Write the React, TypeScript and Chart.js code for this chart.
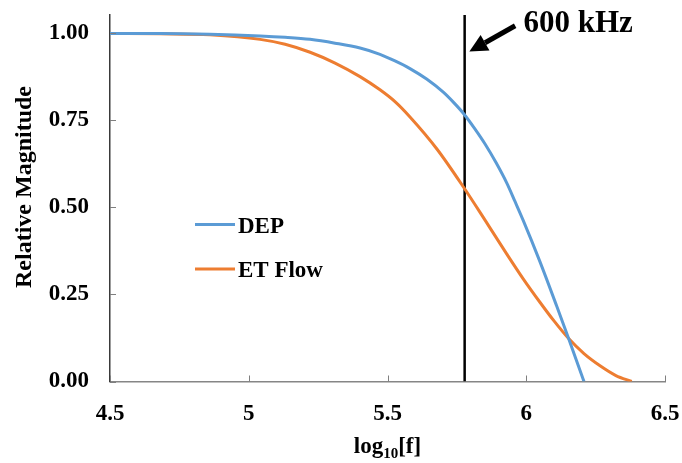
import React, { useEffect, useRef } from "react";
import { Chart, registerables } from "chart.js";

Chart.register(...registerables);

// ---- data ----
const DEP_X = [4.5, 4.68, 4.86, 5.041, 5.131, 5.221, 5.311, 5.401, 5.473, 5.527, 5.581, 5.641, 5.7, 5.738, 5.776, 5.813, 5.851, 5.891, 5.93, 5.959, 5.989, 6.05, 6.11, 6.152, 6.208];
const DEP_Y = [1.0, 1.0, 0.998, 0.993, 0.989, 0.983, 0.972, 0.958, 0.94, 0.921, 0.899, 0.869, 0.832, 0.802, 0.768, 0.728, 0.683, 0.629, 0.57, 0.518, 0.463, 0.343, 0.216, 0.125, 0.0];

const ETF_X = [4.5, 4.68, 4.86, 5.041, 5.131, 5.221, 5.311, 5.401, 5.473, 5.527, 5.581, 5.678, 5.776, 5.844, 5.93, 5.989, 6.05, 6.1, 6.152, 6.208, 6.266, 6.323, 6.38];
const ETF_Y = [1.0, 0.999, 0.996, 0.983, 0.969, 0.946, 0.915, 0.876, 0.838, 0.804, 0.76, 0.668, 0.556, 0.473, 0.366, 0.295, 0.227, 0.174, 0.124, 0.08, 0.045, 0.017, 0.0];

const SERIES_NAMES = ["DEP", "ET Flow"];

const X_TICKS = [4.5, 5, 5.5, 6, 6.5];
const X_TICK_LABELS = ["4.5", "5", "5.5", "6", "6.5"];
const Y_TICKS = [0, 0.25, 0.5, 0.75, 1.0];
const Y_TICK_LABELS = ["0.00", "0.25", "0.50", "0.75", "1.00"];

const X_MIN = 4.5;
const X_MAX = 6.5;
const Y_MIN = 0;
const Y_MAX = 1.053;

// 600 kHz marker: log10(600000)
const MARK_X = 5.778;
const MARK_LABEL = "600 kHz";
const ARROW_TIP = { x: 5.795, y: 0.948 };
const ARROW_TAIL = { x: 5.96, y: 1.022 };
const MARK_TEXT_POS = { x: 5.99, y: 1.004 };

const Y_TITLE = "Relative Magnitude";

const BLUE = "#5B9BD5";
const ORANGE = "#ED7D31";
const FONT = "'Liberation Serif', 'Times New Roman', serif";

export default function App() {
  const ref = useRef<HTMLCanvasElement>(null);

  useEffect(() => {
    const canvas = ref.current;
    if (!canvas) return;

    const decor = {
      id: "decor",
      afterDraw(chart: any) {
        const ctx = chart.ctx as CanvasRenderingContext2D;
        const xs = chart.scales.x;
        const ys = chart.scales.y;
        const area = chart.chartArea;
        ctx.save();

        // inward tick marks
        ctx.strokeStyle = "#7f7f7f";
        ctx.lineWidth = 1;
        X_TICKS.forEach((v) => {
          const px = Math.round(xs.getPixelForValue(v)) + 0.5;
          ctx.beginPath();
          ctx.moveTo(px, area.bottom);
          ctx.lineTo(px, area.bottom - 6);
          ctx.stroke();
        });
        Y_TICKS.forEach((v) => {
          const py = Math.round(ys.getPixelForValue(v)) + 0.5;
          ctx.beginPath();
          ctx.moveTo(area.left, py);
          ctx.lineTo(area.left + 6, py);
          ctx.stroke();
        });

        // tick labels
        ctx.fillStyle = "#000";
        ctx.font = `bold 23px ${FONT}`;
        ctx.textAlign = "center";
        ctx.textBaseline = "alphabetic";
        X_TICKS.forEach((v, i) => {
          ctx.fillText(X_TICK_LABELS[i], xs.getPixelForValue(v), area.bottom + 38.5);
        });
        ctx.textAlign = "right";
        ctx.textBaseline = "middle";
        Y_TICKS.forEach((v, i) => {
          ctx.fillText(Y_TICK_LABELS[i], area.left - 21, ys.getPixelForValue(v));
        });

        // arrow
        const tx = xs.getPixelForValue(ARROW_TIP.x);
        const ty = ys.getPixelForValue(ARROW_TIP.y);
        const sx = xs.getPixelForValue(ARROW_TAIL.x);
        const sy = ys.getPixelForValue(ARROW_TAIL.y);
        const ang = Math.atan2(ty - sy, tx - sx);
        const headLen = 18;
        const headW = 9;
        const bx = tx - headLen * Math.cos(ang);
        const by = ty - headLen * Math.sin(ang);
        ctx.strokeStyle = "#000";
        ctx.fillStyle = "#000";
        ctx.lineWidth = 5;
        ctx.lineCap = "butt";
        ctx.beginPath();
        ctx.moveTo(sx, sy);
        ctx.lineTo(bx, by);
        ctx.stroke();
        ctx.beginPath();
        ctx.moveTo(tx, ty);
        ctx.lineTo(bx + headW * Math.sin(ang), by - headW * Math.cos(ang));
        ctx.lineTo(bx - headW * Math.sin(ang), by + headW * Math.cos(ang));
        ctx.closePath();
        ctx.fill();

        // marker label
        ctx.font = `bold 31px ${FONT}`;
        ctx.textAlign = "left";
        ctx.textBaseline = "alphabetic";
        ctx.fillText(MARK_LABEL, xs.getPixelForValue(MARK_TEXT_POS.x), ys.getPixelForValue(MARK_TEXT_POS.y));

        // legend
        const legendItems = [
          { name: SERIES_NAMES[0], color: BLUE, y: 224.5 },
          { name: SERIES_NAMES[1], color: ORANGE, y: 269 },
        ];
        legendItems.forEach((it) => {
          ctx.strokeStyle = it.color;
          ctx.lineWidth = 3;
          ctx.beginPath();
          ctx.moveTo(195, it.y);
          ctx.lineTo(235, it.y);
          ctx.stroke();
          ctx.fillStyle = "#000";
          ctx.font = `bold 23px ${FONT}`;
          ctx.textAlign = "left";
          ctx.textBaseline = "alphabetic";
          ctx.fillText(it.name, 238, it.y + 8);
        });

        // y title
        ctx.save();
        ctx.translate(31, 187);
        ctx.rotate(-Math.PI / 2);
        ctx.font = `bold 24px ${FONT}`;
        ctx.textAlign = "center";
        ctx.textBaseline = "alphabetic";
        ctx.fillStyle = "#000";
        ctx.fillText(Y_TITLE, 0, 0);
        ctx.restore();

        // x title with subscript
        const main = `bold 23px ${FONT}`;
        const sub = `bold 15px ${FONT}`;
        ctx.font = main;
        const w1 = ctx.measureText("log").width;
        const w3 = ctx.measureText("[f]").width;
        ctx.font = sub;
        const w2 = ctx.measureText("10").width;
        const total = w1 + w2 + w3;
        const cx = (area.left + area.right) / 2;
        let x0 = cx - total / 2;
        const base = 453;
        ctx.textAlign = "left";
        ctx.fillStyle = "#000";
        ctx.font = main;
        ctx.fillText("log", x0, base);
        x0 += w1;
        ctx.font = sub;
        ctx.fillText("10", x0, base + 5);
        x0 += w2;
        ctx.font = main;
        ctx.fillText("[f]", x0, base);

        ctx.restore();
      },
    };

    const chart = new Chart(canvas, {
      type: "scatter",
      data: {
        datasets: [
          {
            label: SERIES_NAMES[0],
            data: DEP_X.map((x, i) => ({ x, y: DEP_Y[i] })),
            showLine: true,
            borderColor: BLUE,
            backgroundColor: BLUE,
            borderWidth: 3,
            pointRadius: 0,
            cubicInterpolationMode: "monotone",
          },
          {
            label: SERIES_NAMES[1],
            data: ETF_X.map((x, i) => ({ x, y: ETF_Y[i] })),
            showLine: true,
            borderColor: ORANGE,
            backgroundColor: ORANGE,
            borderWidth: 3,
            pointRadius: 0,
            cubicInterpolationMode: "monotone",
          },
          {
            label: MARK_LABEL,
            data: [
              { x: MARK_X, y: Y_MIN },
              { x: MARK_X, y: Y_MAX },
            ],
            showLine: true,
            borderColor: "#000",
            borderWidth: 2.5,
            pointRadius: 0,
          },
        ],
      },
      options: {
        responsive: false,
        animation: false,
        layout: { padding: { top: 15, right: 17, left: 0, bottom: 0 } },
        plugins: {
          legend: { display: false },
          tooltip: { enabled: false },
        },
        scales: {
          x: {
            type: "linear",
            min: X_MIN,
            max: X_MAX,
            afterBuildTicks: (s: any) => {
              s.ticks = X_TICKS.map((v) => ({ value: v }));
            },
            afterFit: (s: any) => {
              s.height = 81.5;
            },
            grid: { display: false, drawOnChartArea: false, drawTicks: false },
            border: { display: true, color: "#868686", width: 1.5 },
            ticks: { display: false },
          },
          y: {
            type: "linear",
            min: Y_MIN,
            max: Y_MAX,
            afterBuildTicks: (s: any) => {
              s.ticks = Y_TICKS.map((v) => ({ value: v }));
            },
            afterFit: (s: any) => {
              s.width = 110;
            },
            grid: { display: false, drawOnChartArea: false, drawTicks: false },
            border: { display: true, color: "#3a3a3a", width: 1.5 },
            ticks: { display: false },
          },
        },
      },
      plugins: [decor],
    });

    return () => chart.destroy();
  }, []);

  return (
    <div style={{ position: "absolute", left: 0, top: 0, width: 682, height: 463, background: "#fff" }}>
      <canvas ref={ref} width={682} height={463} style={{ width: 682, height: 463, display: "block" }} />
    </div>
  );
}
